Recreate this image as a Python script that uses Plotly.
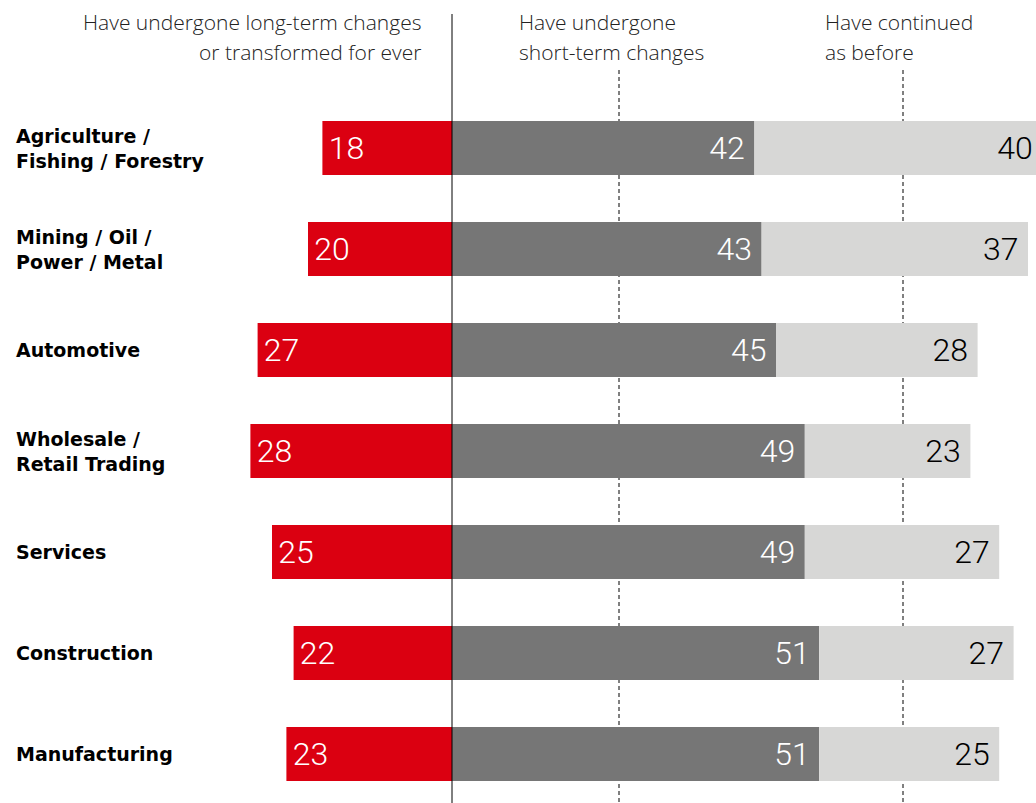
import plotly.graph_objects as go

categories = ["Agriculture /<br>Fishing / Forestry", "Mining / Oil /<br>Power / Metal", "Automotive",
              "Wholesale /<br>Retail Trading", "Services", "Construction", "Manufacturing"]
long_term = [18, 20, 27, 28, 25, 22, 23]
short_term = [42, 43, 45, 49, 49, 51, 51]
continued = [40, 37, 28, 23, 27, 27, 25]
headers = [
    ("Have undergone long-term changes", "or transformed for ever"),
    ("Have undergone", "short-term changes"),
    ("Have continued", "as before"),
]

RED = "#DB0011"
DARK = "#767676"
LIGHT = "#D7D7D6"
W, H = 1050, 803          # figure runs a little past the window so the 40 bar's end stays in range
ZERO_PX = 452
PX_PER_UNIT = 7.2
SP = "\u2009"
HSP = "\u200a"

val_font = dict(family="Roboto", size=32, weight=300)
common = dict(y=categories, orientation="h", width=0.535, hoverinfo="skip",
              textposition="inside", insidetextanchor="end", constraintext="none",
              textangle=0, cliponaxis=False)

fig = go.Figure()
fig.add_trace(go.Bar(x=[-v for v in long_term], text=long_term, texttemplate=HSP + "%{text}",
                     marker=dict(color=RED, line=dict(width=0)),
                     insidetextfont=dict(val_font, color="white"), **common))
fig.add_trace(go.Bar(x=short_term, text=short_term, texttemplate="%{text}" + SP,
                     marker=dict(color=DARK, line=dict(width=0)),
                     insidetextfont=dict(val_font, color="white"), **common))
fig.add_trace(go.Bar(x=continued, base=short_term, text=continued, texttemplate="%{text}" + SP,
                     marker=dict(color=LIGHT, line=dict(width=0)),
                     insidetextfont=dict(val_font, color="black"), **common))

ann = []
for c in categories:
    ann.append(dict(x=0, xref="paper", xshift=14, y=c, text=c, xanchor="left", align="left",
                    showarrow=False, font=dict(family="DejaVu Sans", size=19, weight="bold", color="black")))

hdr_font = dict(family="Open Sans", size=21, weight=300, color="#222222")
hdr_pos = [(423, "right"), (517, "left"), (823, "left")]
for (l1, l2), (px, anchor) in zip(headers, hdr_pos):
    for txt, py in ((l1, 22), (l2, 52)):
        ann.append(dict(x=px / W, xref="paper", y=1 - py / H, yref="paper", text=txt,
                        xanchor=anchor, yanchor="middle", showarrow=False, font=hdr_font))

shapes = []
for px in (619, 903):
    shapes.append(dict(type="line", xref="paper", yref="paper", x0=px / W, x1=px / W,
                       y0=1 - 70 / H, y1=0, layer="below",
                       line=dict(color="black", width=1, dash="4px,3px")))
shapes.append(dict(type="line", xref="x", yref="paper", x0=0, x1=0, y0=1 - 14 / H, y1=0,
                   layer="above", line=dict(color="black", width=1)))

r0 = -148 / 101
r1 = r0 + H / 101
fig.update_layout(
    width=W, height=H, barmode="overlay", showlegend=False,
    margin=dict(l=0, r=0, t=0, b=0),
    paper_bgcolor="white", plot_bgcolor="white",
    xaxis=dict(range=[-ZERO_PX / PX_PER_UNIT, (W - ZERO_PX) / PX_PER_UNIT], visible=False, fixedrange=True),
    yaxis=dict(type="category", range=[r1, r0], visible=False, fixedrange=True),
    annotations=ann, shapes=shapes,
)
fig.write_html("out.html", config={"displayModeBar": False, "staticPlot": True},
               post_script="document.body.style.margin='0';document.body.style.overflow='hidden';"
                           "document.documentElement.style.overflow='hidden';")
